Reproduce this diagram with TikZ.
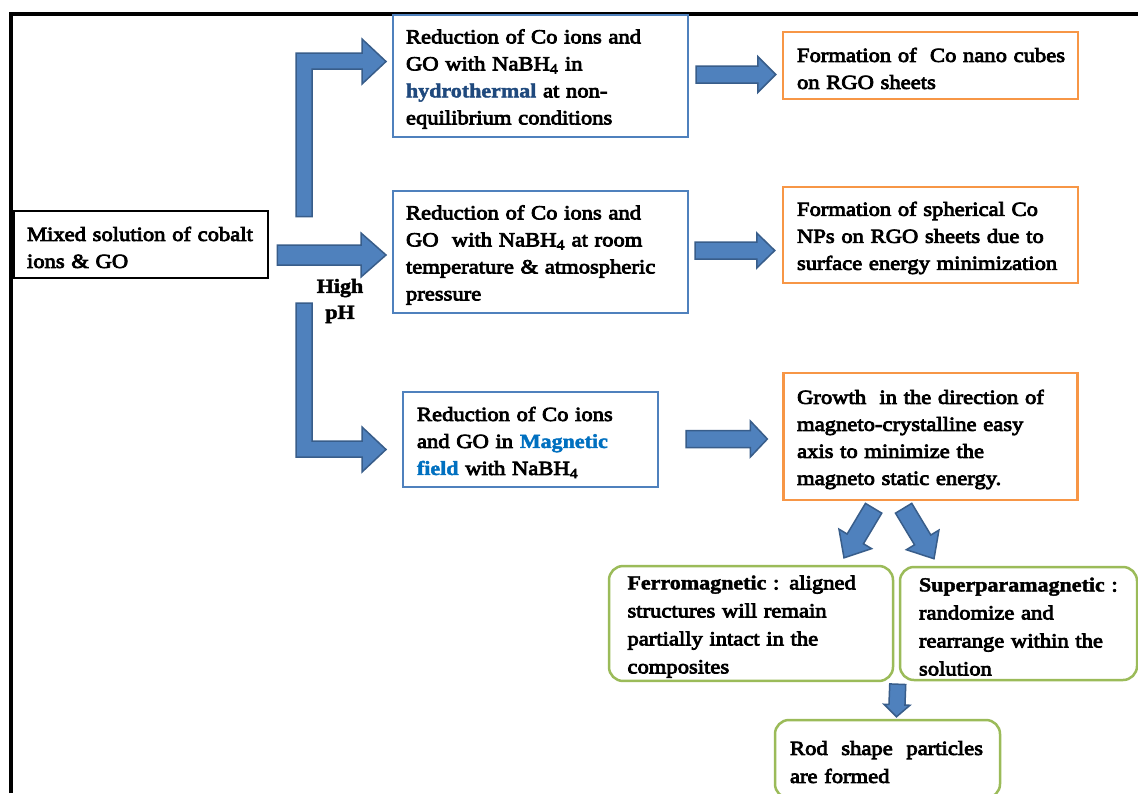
\documentclass[tikz,border=0pt]{standalone}
\usepackage{fontspec}
\setmainfont{Liberation Serif}[FakeStretch=1.13, FakeBold=4]
\newfontfamily\boldf{Liberation Serif}[FakeStretch=1.1, FakeBold=2]
\usetikzlibrary{calc}
\definecolor{bluebd}{RGB}{79,129,189}
\definecolor{orangebd}{RGB}{247,150,70}
\definecolor{greenbd}{RGB}{155,187,89}
\definecolor{arrowfill}{RGB}{79,129,189}
\definecolor{arrowbd}{RGB}{56,93,138}
\definecolor{hydrocol}{RGB}{31,73,125}
\definecolor{magcol}{RGB}{0,112,192}
\newcommand\hb[1]{{\boldf\bfseries #1}}
\newcommand\fatarrow[5]{%
  \coordinate (fah) at ($(#2)!#5!(#1)$);
  \filldraw[fat] ($(#1)!#3!90:(#2)$) -- ($(fah)!#3!90:(#2)$) -- ($(fah)!#4!90:(#2)$) -- (#2)
    -- ($(fah)!#4!-90:(#2)$) -- ($(fah)!#3!-90:(#2)$) -- ($(#1)!#3!-90:(#2)$) -- cycle;
}
\begin{document}
\begin{tikzpicture}[x=1pt,y=-1pt,
  txt/.style={font=\fontsize{20}{27}\selectfont, align=left, anchor=center,
    execute at begin node={\rule{0pt}{20pt}}},
  blackbox/.style={txt, draw=black, line width=2.5pt},
  bluebox/.style={txt, draw=bluebd, line width=2pt},
  orangebox/.style={txt, draw=orangebd, line width=2.5pt},
  greenbox/.style={txt, draw=greenbd, line width=2.5pt, rounded corners=14pt, font=\fontsize{20}{28}\selectfont},
  fat/.style={fill=arrowfill, draw=arrowbd, line width=1.5pt, line join=miter}]
\useasboundingbox (0,0) rectangle (1138,793);
\fill[white] (0,0) rectangle (1138,793);
% frame
\draw[line width=4pt] (10.5,793) -- (10.5,14) -- (1138,14);

% nodes
\node[blackbox, text width=228pt, inner xsep=13pt, minimum height=67pt] (mix) at (141,244.5)
  {Mixed solution of cobalt\\ions \& GO};
\node[bluebox, text width=269pt, inner xsep=13pt, minimum height=122pt] (red1) at (540.5,76)
  {Reduction of Co ions and\\GO with NaBH\textsubscript{4} in\\\textcolor{hydrocol}{\hb{hydrothermal}} at non-\\equilibrium conditions};
\node[bluebox, text width=269pt, inner xsep=13pt, minimum height=122pt] (red2) at (540.5,252)
  {Reduction of Co ions and\\GO~~with NaBH\textsubscript{4} at room\\temperature \& atmospheric\\pressure};
\node[bluebox, text width=227pt, inner xsep=14pt, minimum height=95pt] (red3) at (530.5,439.5)
  {Reduction of Co ions\\and GO in \textcolor{magcol}{\hb{Magnetic}}\\\textcolor{magcol}{\hb{field}} with NaBH\textsubscript{4}};
\node[orangebox, text width=267pt, inner xsep=14pt, minimum height=67pt] (form1) at (930.5,65.5)
  {Formation~of~~Co~nano~cubes\\on RGO sheets};
\node[orangebox, text width=267pt, inner xsep=14pt, minimum height=96pt] (form2) at (930.5,235)
  {Formation of spherical Co\\NPs on RGO sheets due to\\surface~energy~minimization};
\node[orangebox, text width=267pt, inner xsep=13.5pt, minimum height=127pt] (grow) at (930.6,436.5)
  {Growth~~in the direction of\\magneto-crystalline easy\\axis to minimize the\\magneto static energy.};
\node[greenbox, text width=247pt, inner xsep=18.5pt, minimum height=113pt] (ferro) at (751,623.5)
  {\hb{Ferromagnetic}~: aligned\\structures will remain\\partially intact in the\\composites};
\node[greenbox, text width=199pt, inner xsep=19pt, minimum height=113pt] (super) at (1018.5,623.5)
  {\hb{Superparamagnetic}~:\\randomize and\\rearrange within the\\solution};
\node[greenbox, text width=195pt, inner xsep=15pt, minimum height=78pt] (rod) at (887.5,759)
  {\makebox[193pt][l]{Rod\hfill shape\hfill particles}\\are formed};
\node[font=\fontsize{20}{26}\selectfont\boldf\bfseries, align=center] (ph) at (340,301) {High\\pH};

% elbow arrows
\coordinate (up1) at ($(red1.west)+(-6,-14.5)$);
\filldraw[fat] (296,216.5) -- (296,53) -- (362,53) -- (362,39) -- (up1) -- (362,84) -- (362,69) -- (312,69) -- (312,216.5) -- cycle;
\coordinate (dn1) at ($(red3.west)+(-16,10)$);
\filldraw[fat] (296,303) -- (296,457) -- (362,457) -- (362,472) -- (dn1) -- (362,427) -- (362,441) -- (312,441) -- (312,303) -- cycle;

% straight arrows
\coordinate (m0) at ($(mix.east)+(8,10.5)$);
\coordinate (m1) at ($(red2.west)+(-6,3)$);
\fatarrow{m0}{m1}{10pt}{22pt}{25pt}
\coordinate (t0) at ($(red1.east)+(7,-1.5)$);
\coordinate (t1) at ($(form1.west)+(-6,9)$);
\fatarrow{t0}{t1}{8.5pt}{18pt}{18pt}
\coordinate (u0) at ($(red2.east)+(6,-1.5)$);
\coordinate (u1) at ($(form2.west)+(-7,15.5)$);
\fatarrow{u0}{u1}{8.5pt}{17.5pt}{18pt}
\coordinate (v0) at ($(red3.east)+(27,-0.5)$);
\coordinate (v1) at ($(grow.west)+(-15,2.5)$);
\fatarrow{v0}{v1}{8.5pt}{18pt}{17pt}
\coordinate (d0) at ($(grow.south)+(-57,7)$);
\coordinate (d1) at ($(ferro.north)+(93,-7)$);
\fatarrow{d0}{d1}{9.5pt}{19pt}{22pt}
\coordinate (e0) at ($(grow.south)+(-27,7)$);
\coordinate (e1) at ($(super.north)+(-84.5,-7)$);
\fatarrow{e0}{e1}{9.5pt}{19pt}{22pt}
\coordinate (f0) at ($(ferro.south east)+(3.5,2)$);
\coordinate (f1) at ($(rod.north)+(9,-2)$);
\fatarrow{f0}{f1}{8pt}{13pt}{12pt}
\end{tikzpicture}
\end{document}
